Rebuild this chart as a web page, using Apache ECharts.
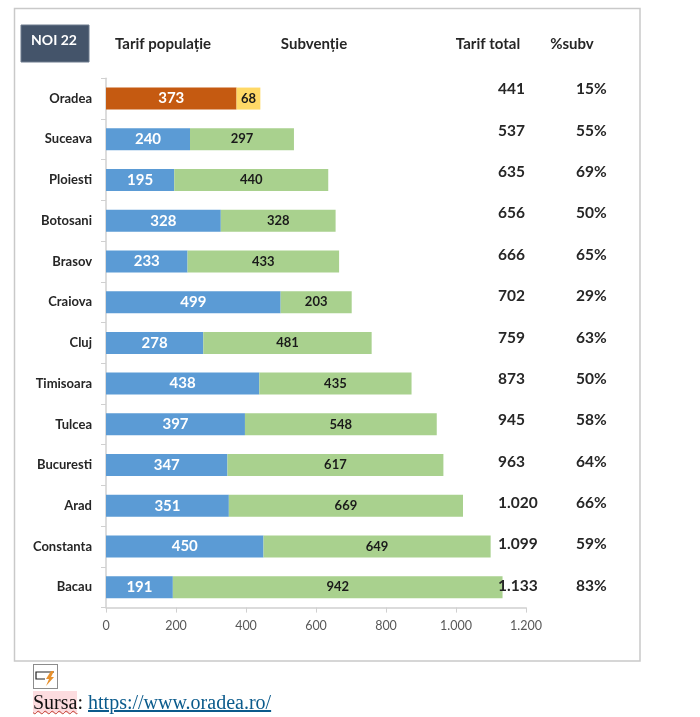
<!DOCTYPE html>
<html>
<head>
<meta charset="utf-8">
<title>NOI 22</title>
<script src="https://cdn.jsdelivr.net/npm/echarts@6/dist/echarts.min.js"></script>
<style>
    html, body { margin: 0; padding: 0; background: #fff; }
    #main { position: absolute; left: 0; top: 0; width: 700px; height: 717px; }
    #icon { position: absolute; left: 33px; top: 664px; }
    #source { position: absolute; left: 33px; top: 691px; font: 20px "Liberation Serif", serif; color: #111; white-space: nowrap; }
    #source .mark { background: #fcdcdf; text-decoration: underline wavy #c0392b 1px; }
    #source a { color: #0b5b8c; }
</style>
</head>
<body>
<div id="main"></div>
<svg id="icon" width="25" height="25" viewBox="0 0 25 25">
    <rect x="0.5" y="0.5" width="24" height="24" fill="#fff" stroke="#8c8c8c"/>
    <path d="M21 8H3V15H12" fill="none" stroke="#222" stroke-width="1.2"/>
    <path d="M18 7L13 15H16L13 22L21 13H18L21 7Z" fill="#e8912d"/>
</svg>
<div id="source"><span class="mark">Sursa</span>: <a href="https://www.oradea.ro/">https://www.oradea.ro/</a></div>
<script>
    var cities = ['Oradea', 'Suceava', 'Ploiesti', 'Botosani', 'Brasov', 'Craiova', 'Cluj', 'Timisoara', 'Tulcea', 'Bucuresti', 'Arad', 'Constanta', 'Bacau'];
    var tarifPopulatie = [373, 240, 195, 328, 233, 499, 278, 438, 397, 347, 351, 450, 191];
    var subventie = [68, 297, 440, 328, 433, 203, 481, 435, 548, 617, 669, 649, 942];
    var tarifTotal = ['441', '537', '635', '656', '666', '702', '759', '873', '945', '963', '1.020', '1.099', '1.133'];
    var procentSubv = ['15%', '55%', '69%', '50%', '65%', '29%', '63%', '50%', '58%', '64%', '66%', '59%', '83%'];
    var xTicks = { min: 0, max: 1200, interval: 200 };

    var FONT = 'Lato, "Open Sans", sans-serif';
    var highlight = 'Oradea'; // orasul evidentiat are alte culori

    function colored(values, normal, special) {
        return values.map(function (v, i) {
            return { value: v, itemStyle: { color: cities[i] == highlight ? special : normal } };
        });
    }
    function headerText(text, x) {
        return {
            type: 'text', x: x, y: 44, z: 5,
            style: { text: text, align: 'center', verticalAlign: 'middle', fill: '#262626', font: 'bold 15px ' + FONT }
        };
    }
    function columnAxis(data, offset) {
        return {
            type: 'category', gridIndex: 1, position: 'right', offset: offset, inverse: true, data: data, z: 10,
            axisLine: { show: false }, axisTick: { show: false }, splitLine: { show: false },
            axisLabel: { margin: 8, color: '#262626', fontFamily: FONT, fontWeight: 'bold', fontSize: 15.5 }
        };
    }

    var myChart = echarts.init(document.getElementById('main'));
    myChart.setOption({
        animation: false,
        backgroundColor: '#fff',
        textStyle: { fontFamily: FONT },
        graphic: [
            { type: 'rect', z: -10, shape: { x: 14.5, y: 8.5, width: 625.5, height: 652.5 }, style: { fill: '#fff', stroke: '#c9c9c9', lineWidth: 1.5 } },
            { type: 'rect', z: 1, shape: { x: 21, y: 25, width: 68, height: 37 }, style: { fill: '#44546a', stroke: '#6d7b8d', lineWidth: 1 } },
            { type: 'text', x: 54, y: 40, z: 5, style: { text: 'NOI 22', align: 'center', verticalAlign: 'middle', fill: '#fff', font: 'bold 14px ' + FONT } },
            headerText('Tarif populație', 163),
            headerText('Subvenție', 314),
            headerText('Tarif total', 488),
            headerText('%subv', 572)
        ],
        grid: [
            { left: 106, top: 78.2, width: 420, height: 529.4 },
            { left: 400, top: 68.5, width: 90, height: 538 }
        ],
        xAxis: [
            {
                type: 'value', gridIndex: 0, min: xTicks.min, max: xTicks.max, interval: xTicks.interval,
                splitLine: { show: false },
                axisLine: { show: true, lineStyle: { color: '#d0d0d0', width: 1.5 } },
                axisTick: { show: true, length: 5, lineStyle: { color: '#d0d0d0', width: 1 } },
                axisLabel: {
                    margin: 12, color: '#595959', fontFamily: FONT, fontSize: 12.5,
                    formatter: function (v) { return v >= 1000 ? String(v).replace(/(\d)(\d{3})$/, '$1.$2') : v; }
                }
            },
            { type: 'value', gridIndex: 1, show: false, min: 0, max: 1 }
        ],
        yAxis: [
            {
                type: 'category', gridIndex: 0, inverse: true, data: cities,
                axisLine: { show: true, lineStyle: { color: '#d0d0d0', width: 1.5 } },
                axisTick: { show: true, length: 5, lineStyle: { color: '#d0d0d0', width: 1 } },
                axisLabel: { margin: 14, color: '#262626', fontFamily: FONT, fontWeight: 'bold', fontSize: 13 }
            },
            columnAxis(tarifTotal, 0),
            columnAxis(procentSubv, 78)
        ],
        series: [
            {
                name: 'Tarif populație', type: 'bar', stack: 'tarif', barWidth: 22, xAxisIndex: 0, yAxisIndex: 0,
                data: colored(tarifPopulatie, '#5b9bd5', '#c55a11'),
                label: { show: true, position: 'inside', color: '#fff', fontFamily: FONT, fontWeight: 'bold', fontSize: 15 }
            },
            {
                name: 'Subvenție', type: 'bar', stack: 'tarif', barWidth: 22, xAxisIndex: 0, yAxisIndex: 0,
                data: colored(subventie, '#a9d18e', '#ffd966'),
                label: { show: true, position: 'inside', color: '#1a1a1a', fontFamily: FONT, fontWeight: 'bold', fontSize: 13 }
            }
        ]
    });
</script>
</body>
</html>
